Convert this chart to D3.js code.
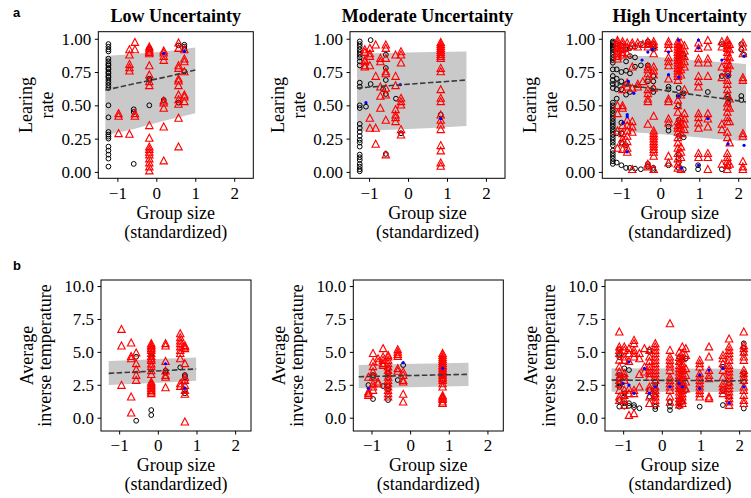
<!DOCTYPE html>
<html><head><meta charset="utf-8">
<script src="https://cdn.jsdelivr.net/npm/d3@7"></script>
<style>body{margin:0;background:#fff} svg{display:block}</style>
</head><body><svg id="fig" width="751" height="498"></svg>
<script>
// ---------- labels and ticks ----------
const conditions = ["Low Uncertainty", "Moderate Uncertainty", "High Uncertainty"];
const xTicks = [-1, 0, 1, 2];
const lrTicks = [0, 0.25, 0.5, 0.75, 1.0];
const tempTicks = [0, 2.5, 5, 7.5, 10];
const lrLabel = ["Learing", "rate"];
const tempLabel = ["Average", "inverse temperature"];
const xLabel = ["Group size", "(standardized)"];

// ---------- learning rate: columns of [group size, [values]] ----------
const lowLrCircles = [
  [-1.23, [0.96, 0.94, 0.92, 0.905, 0.85, 0.83, 0.81, 0.80, 0.78, 0.77, 0.75, 0.74, 0.72, 0.71, 0.69, 0.67, 0.65, 0.63, 0.50, 0.41, 0.30, 0.28, 0.265, 0.25, 0.19, 0.16, 0.13, 0.10, 0.04]],
  [-0.58, [0.47, 0.45, 0.06]],
  [-0.18, [0.93, 0.92, 0.70, 0.69, 0.50]],
  [0.19, [0.54]],
  [0.57, [0.95, 0.52]],
  [0.72, [0.955, 0.94, 0.92, 0.755]]
];
const lowLrTriangles = [
  [-0.97, [0.44, 0.42, 0.29]],
  [-0.69, [0.92, 0.88, 0.81, 0.785, 0.76, 0.285]],
  [-0.55, [0.975, 0.92, 0.44, 0.42]],
  [-0.18, [0.94, 0.925, 0.91, 0.90, 0.89, 0.80, 0.73, 0.68, 0.65, 0.35, 0.255, 0.19, 0.17, 0.15, 0.13, 0.10, 0.07, 0.04, 0.01]],
  [0.19, [0.91, 0.895, 0.87, 0.84, 0.535, 0.52, 0.48, 0.34, 0.085]],
  [0.57, [0.97, 0.93, 0.80, 0.78, 0.70, 0.685, 0.65, 0.58, 0.545, 0.51, 0.405, 0.19]],
  [0.72, [0.92, 0.85, 0.83, 0.755, 0.58, 0.565, 0.53]]
];
const lowLrDots = [[0.19, 0.89], [0.72, 0.905]];
// [x, lower, fit, upper]
const lowLrBand = [[-1.31, 0.275, 0.615, 0.87], [-0.6, 0.32, 0.66, 0.885], [0.2, 0.385, 0.71, 0.905], [1.0, 0.44, 0.765, 0.935]];

const modLrCircles = [
  [-1.24, [0.98, 0.96, 0.94, 0.92, 0.90, 0.88, 0.86, 0.83, 0.80, 0.67, 0.64, 0.50, 0.48, 0.36, 0.33, 0.30, 0.27, 0.24, 0.22, 0.19, 0.13, 0.11, 0.09, 0.06, 0.04, 0.02, 0.005]],
  [-1.08, [0.49]],
  [-0.96, [0.99, 0.66]],
  [-0.64, [0.62]],
  [-0.57, [0.88, 0.78, 0.69, 0.585, 0.135]],
  [-0.31, [0.55]],
  [-0.18, [0.29]],
  [0.84, [0.43]]
];
const modLrTriangles = [
  [-1.11, [0.92, 0.90, 0.84, 0.83, 0.80, 0.79]],
  [-0.98, [0.93, 0.89, 0.87, 0.80, 0.405, 0.33]],
  [-0.83, [0.955, 0.72, 0.33, 0.21]],
  [-0.71, [0.855, 0.83, 0.64, 0.57, 0.48]],
  [-0.57, [0.955, 0.93, 0.855, 0.755, 0.74, 0.63, 0.58, 0.39, 0.13]],
  [-0.32, [0.88, 0.72, 0.65, 0.47, 0.43, 0.41, 0.38]],
  [-0.18, [0.905, 0.88, 0.82, 0.555, 0.53, 0.505, 0.32, 0.28]],
  [0.84, [0.975, 0.96, 0.945, 0.93, 0.915, 0.90, 0.885, 0.87, 0.855, 0.78, 0.755, 0.62, 0.555, 0.53, 0.43, 0.39, 0.355, 0.32, 0.20, 0.16, 0.07, 0.045]]
];
const modLrDots = [[-1.08, 0.52], [-0.2, 0.655], [0.84, 0.40]];
const modLrBand = [[-1.31, 0.305, 0.63, 0.89], [-0.3, 0.318, 0.652, 0.895], [0.6, 0.33, 0.671, 0.9], [1.5, 0.345, 0.69, 0.905]];

const highLrCircles = [
  [-1.22, [0.98, 0.97, 0.96, 0.95, 0.94, 0.93, 0.92, 0.90, 0.88, 0.86, 0.84, 0.82, 0.77, 0.72, 0.69, 0.66, 0.63, 0.52, 0.50, 0.48, 0.46, 0.44, 0.42, 0.40, 0.38, 0.36, 0.34, 0.32, 0.30, 0.28, 0.26, 0.24, 0.22, 0.20, 0.16, 0.14, 0.12, 0.10, 0.08, 0.06]],
  [-1.12, [0.96, 0.93, 0.77, 0.70, 0.66, 0.62, 0.55, 0.29, 0.07]],
  [-1.0, [0.95, 0.91, 0.75, 0.68, 0.62, 0.37, 0.29, 0.22, 0.05]],
  [-0.88, [0.94, 0.92, 0.83, 0.76, 0.66, 0.58, 0.20, 0.03]],
  [-0.78, [0.93, 0.87, 0.74, 0.60, 0.03]],
  [-0.65, [0.94, 0.86, 0.79, 0.025]],
  [-0.5, [0.96, 0.80, 0.02]],
  [-0.32, [0.98, 0.96, 0.80, 0.68, 0.06, 0.04]],
  [-0.18, [0.96, 0.94, 0.92, 0.72, 0.68, 0.63, 0.60, 0.03, 0.015]],
  [0.21, [0.64, 0.62, 0.34, 0.31, 0.05]],
  [0.47, [0.94, 0.90, 0.87, 0.84, 0.63, 0.57, 0.50, 0.39, 0.35, 0.27, 0.13, 0.10, 0.07, 0.03]],
  [0.6, [0.88, 0.86, 0.59, 0.26, 0.02]],
  [0.97, [0.05, 0.02]],
  [1.22, [0.60]],
  [1.58, [0.96, 0.72, 0.02]],
  [1.74, [0.74, 0.72, 0.57, 0.55, 0.52, 0.04]],
  [2.08, [0.96, 0.92, 0.57, 0.54]],
  [2.15, [0.88]]
];
const highLrTriangles = [
  [-1.1, [0.99, 0.97, 0.95, 0.93, 0.91, 0.89, 0.87, 0.85, 0.50, 0.44, 0.31, 0.18]],
  [-0.97, [0.98, 0.96, 0.93, 0.90, 0.88, 0.62, 0.50, 0.48, 0.35, 0.29, 0.25, 0.22, 0.17]],
  [-0.85, [0.97, 0.94, 0.89, 0.67, 0.64, 0.39, 0.35, 0.31, 0.27, 0.23, 0.18, 0.15]],
  [-0.72, [0.97, 0.95, 0.79, 0.63, 0.38, 0.34, 0.30, 0.02]],
  [-0.58, [0.97, 0.94, 0.66, 0.64]],
  [-0.45, [0.96, 0.68]],
  [-0.32, [0.98, 0.96, 0.94, 0.79, 0.77, 0.74, 0.70, 0.62, 0.59, 0.55, 0.53, 0.36, 0.06, 0.04]],
  [-0.17, [0.98, 0.96, 0.94, 0.89, 0.79, 0.76, 0.73, 0.63, 0.42, 0.31, 0.29, 0.27, 0.25, 0.23, 0.21, 0.19, 0.17, 0.15, 0.12, 0.02]],
  [0.21, [0.98, 0.96, 0.93, 0.86, 0.83, 0.80, 0.70, 0.55, 0.53, 0.40, 0.37, 0.12, 0.07]],
  [0.45, [0.98, 0.96, 0.94, 0.92, 0.90, 0.88, 0.86, 0.84, 0.82, 0.80, 0.78, 0.76, 0.74, 0.72, 0.69, 0.54, 0.50, 0.45, 0.38, 0.35, 0.33, 0.30, 0.26, 0.22, 0.18, 0.14, 0.10, 0.06, 0.03]],
  [0.53, [0.97, 0.93, 0.89, 0.85, 0.81, 0.77, 0.73, 0.58, 0.41, 0.37, 0.33, 0.29, 0.19, 0.15, 0.11, 0.02]],
  [0.62, [0.95, 0.91, 0.87, 0.83, 0.79, 0.62, 0.44, 0.40, 0.36, 0.32]],
  [0.98, [0.97, 0.93, 0.85, 0.82, 0.72, 0.68, 0.64, 0.44, 0.41, 0.37, 0.33, 0.14, 0.11]],
  [1.22, [0.99, 0.94, 0.85, 0.82, 0.72, 0.44, 0.40, 0.34, 0.14, 0.11, 0.02]],
  [1.58, [0.98, 0.94, 0.79, 0.71, 0.36, 0.32, 0.06]],
  [1.72, [0.99, 0.97, 0.95, 0.93, 0.90, 0.87, 0.84, 0.81, 0.78, 0.75, 0.69, 0.66, 0.62, 0.58, 0.52, 0.49, 0.45, 0.41, 0.38, 0.30, 0.26, 0.14, 0.11, 0.08, 0.05, 0.02]],
  [1.78, [0.96, 0.92, 0.86, 0.80, 0.55, 0.48, 0.38, 0.22, 0.06]],
  [2.12, [0.97, 0.94, 0.89, 0.71, 0.69, 0.29, 0.27, 0.08, 0.04, 0.02]]
];
const highLrDots = [[-0.82, 0.68], [-0.85, 0.43], [-0.85, 0.415], [-0.95, 0.37], [-0.85, 0.15], [-0.68, 0.59], [-0.47, 0.84],
  [-0.32, 0.90], [-0.2, 0.92], [0.21, 0.90], [0.21, 0.73], [0.47, 0.99], [0.47, 0.71], [0.47, 0.57], [0.55, 0.03],
  [0.98, 0.99], [0.98, 0.93], [0.98, 0.05], [1.22, 0.40], [1.58, 0.84], [1.74, 0.72], [1.74, 0.21], [2.15, 0.87], [2.15, 0.20]];
const highLrBand = [[-1.3, 0.305, 0.67, 0.87], [-0.3, 0.29, 0.63, 0.87], [0.6, 0.27, 0.59, 0.845], [1.5, 0.245, 0.555, 0.825], [2.2, 0.23, 0.525, 0.81]];

// ---------- inverse temperature ----------
const lowTempCircles = [
  [-0.56, [4.63, -0.23]],
  [-0.17, [4.84, 4.63, 2.6, 0.58, 0.2]],
  [0.2, [3.57, 3.42]],
  [0.58, [3.82]],
  [0.7, [3.24, 3.1, 2.73, 2.1, 1.85]]
];
const lowTempTriangles = [
  [-0.94, [6.73, 5.47, 2.48]],
  [-0.69, [5.7, 4.68, 4.5, 1.6, 0.38]],
  [-0.56, [4.94, 4.13, 3.67, 3.24, 2.86]],
  [-0.17, [5.65, 5.52, 5.4, 5.27, 5.14, 4.9, 4.68, 4.5, 4.38, 4.1, 3.9, 3.6, 3.3, 2.73, 2.6, 2.48, 2.35, 2.23, 2.1, 1.97, 1.85]],
  [0.2, [5.65, 5.47, 4.3, 3.57, 3.24, 3.1, 2.3]],
  [0.58, [6.4, 6.1, 5.85, 5.65, 5.4, 5.14, 4.9, 4.5, 2.6, 2.4]],
  [0.7, [5.5, 5.4, 5.27, 4.13, 3.1, 2.86, 2.48, 2.1, 1.8, -0.3]]
];
const lowTempDots = [[0.2, 4.1], [0.7, 2.23]];
const lowTempBand = [[-1.27, 2.48, 3.37, 4.3], [-0.4, 2.6, 3.5, 4.4], [0.3, 2.7, 3.6, 4.5], [0.99, 2.8, 3.7, 4.58]];

const modTempCircles = [
  [-1.08, [2.48]],
  [-0.96, [3.24, 3.1, 1.42]],
  [-0.7, [2.4]],
  [-0.57, [3.75, 3.37, 3.04, 2.4, 2.15, 1.34]],
  [-0.32, [2.86]],
  [-0.18, [4.0]],
  [0.84, [3.2, 2.86]]
];
const modTempTriangles = [
  [-1.08, [3.1, 1.97, 1.85, 1.72]],
  [-0.96, [4.9, 4.25, 3.9, 3.5, 3.1, 2.6, 2.35, 2.1]],
  [-0.83, [4.5, 4.25, 2.73, 2.6]],
  [-0.7, [5.27, 4.63, 4.38, 4.13, 4.0]],
  [-0.57, [4.76, 4.63, 4.38, 4.13, 3.87, 3.62, 3.37, 3.1, 2.86, 2.6, 2.35, 2.1, 1.85, 1.6]],
  [-0.32, [5.19, 5.0, 4.83, 4.68, 3.75, 3.55]],
  [-0.18, [3.49, 3.24, 2.86, 2.73, 1.8, 1.22]],
  [0.84, [4.9, 4.76, 4.6, 4.45, 4.3, 4.15, 4.0, 3.87, 3.75, 3.62, 3.5, 3.37, 3.24, 3.1, 2.98, 2.86, 2.6, 2.35, 1.7, 1.6, 1.5, 1.4, 1.22, 1.1]]
];
const modTempDots = [[-1.08, 2.23], [-0.18, 4.18], [0.84, 3.75]];
const modTempBand = [[-1.33, 2.23, 3.11, 4.0], [-0.3, 2.29, 3.18, 4.07], [0.6, 2.35, 3.24, 4.12], [1.51, 2.4, 3.29, 4.18]];

const highTempCircles = [
  [-1.1, [5.2, 4.76, 4.6, 3.24, 3.0, 2.6, 2.35, 1.34, 0.84]],
  [-0.97, [3.75, 3.1, 1.85, 1.6, 1.1, 0.84]],
  [-0.85, [3.62, 1.1, 0.9]],
  [-0.72, [0.96, 0.8]],
  [-0.58, [0.72]],
  [-0.32, [5.14, 5.0, 2.1, 1.6]],
  [-0.17, [2.73, 2.48, 2.1, 1.6, 0.84, 0.65]],
  [0.21, [1.22, 0.84, 0.58]],
  [0.45, [4.6, 4.2, 2.73, 2.2, 1.34, 1.1, 0.84]],
  [0.53, [4.6, 4.4, 3.6, 2.5, 1.2]],
  [0.62, [4.5, 2.1]],
  [0.98, [0.84]],
  [1.58, [3.87, 2.1, 0.96]],
  [1.74, [2.6, 1.6]],
  [2.12, [5.65, 5.3, 4.9, 3.37, 2.73, 0.7]]
];
const highTempTriangles = [
  [-1.1, [6.53, 5.4, 5.14, 4.9, 4.4, 3.87, 3.5, 3.1, 2.86, 2.6, 2.1, 1.6, 1.34]],
  [-0.97, [5.4, 5.14, 4.63, 4.38, 3.37, 3.1, 2.86, 2.1, 1.72, 1.34, 0.96]],
  [-0.85, [5.27, 4.9, 4.3, 2.23, 1.85, 0.2]],
  [-0.72, [5.9, 5.65, 5.14, 4.9, 4.63, 2.1, 1.85, 0.33]],
  [-0.58, [4.9, 4.5, 3.3, 2.35]],
  [-0.45, [5.27, 3.87, 3.5]],
  [-0.32, [5.14, 4.63, 4.3, 3.9, 3.62, 3.37, 3.1, 2.35, 2.1, 1.6, 1.1]],
  [-0.17, [5.65, 5.4, 5.14, 4.9, 4.63, 4.38, 4.13, 3.87, 3.62, 3.37, 3.1, 2.86, 2.35, 2.1, 1.85, 1.6, 1.34, 1.1]],
  [0.21, [7.16, 5.14, 4.63, 4.38, 4.1, 3.87, 3.6, 3.1, 2.86, 2.6, 2.35, 2.1, 1.6, 1.2]],
  [0.45, [5.0, 4.6, 4.3, 4.0, 3.75, 3.5, 3.24, 3.0, 2.73, 2.48, 2.23, 1.97, 1.72, 1.47, 1.22, 1.0]],
  [0.53, [5.4, 4.9, 4.5, 4.13, 3.87, 3.62, 3.37, 3.1, 2.86, 2.6, 2.35, 2.1, 1.85, 1.6, 1.34, 1.1]],
  [0.62, [5.27, 4.76, 3.75, 3.24, 2.73, 2.2]],
  [0.98, [4.38, 4.13, 3.87, 3.37, 3.1, 2.86, 2.6, 2.35, 2.1, 1.85, 1.6]],
  [1.22, [5.4, 4.63, 3.62, 3.24, 2.98, 1.6, 1.47]],
  [1.58, [4.76, 4.5, 4.13, 3.62, 3.1, 2.6, 2.35, 2.1, 1.85]],
  [1.74, [6.0, 5.4, 5.14, 4.9, 4.63, 4.38, 4.0, 3.75, 3.5, 3.24, 3.0, 2.73, 2.48, 2.23, 1.97, 1.72, 1.47, 1.22, 0.96]],
  [2.12, [6.53, 5.5, 5.27, 5.0, 4.63, 4.38, 3.62, 3.37, 3.1, 2.86, 2.35, 2.1, 1.72, 1.34, 1.1]]
];
const highTempDots = [[-0.85, 4.25], [-0.85, 2.48], [-0.72, 1.85], [-0.45, 3.75], [-0.32, 1.85], [-0.17, 2.35], [0.21, 2.35],
  [0.45, 2.6], [0.53, 2.35], [0.98, 3.24], [0.98, 2.23], [1.22, 3.62], [1.58, 3.75], [1.74, 1.1], [2.12, 2.35], [-1.0, 2.6]];
const highTempBand = [[-1.3, 1.97, 2.86, 3.75], [0.4, 1.96, 2.83, 3.73], [2.2, 1.95, 2.8, 3.72]];

// ---------- layout ----------
const rowLayout = [
  {top: 31.7, height: 146.6, lefts: [98.3, 350, 602.3], width: 155, xDomain: [-1.49, 2.49], yDomain: [-0.048, 1.053],
   ticks: lrTicks, fmt: d3.format(".2f"), ylab: lrLabel, ylabX: [-66, -45], xTickY: 199, xLabY: [219, 238]},
  {top: 280, height: 151, lefts: [101, 353.3, 605], width: 150, xDomain: [-1.47, 2.41], yDomain: [-1.01, 10.46],
   ticks: tempTicks, fmt: d3.format(".1f"), ylab: tempLabel, ylabX: [-68, -50], xTickY: 451, xLabY: [471, 490]}
];

const panels = [
  {row: 0, col: 0, circles: lowLrCircles, triangles: lowLrTriangles, dots: lowLrDots, band: lowLrBand},
  {row: 0, col: 1, circles: modLrCircles, triangles: modLrTriangles, dots: modLrDots, band: modLrBand},
  {row: 0, col: 2, circles: highLrCircles, triangles: highLrTriangles, dots: highLrDots, band: highLrBand},
  {row: 1, col: 0, circles: lowTempCircles, triangles: lowTempTriangles, dots: lowTempDots, band: lowTempBand},
  {row: 1, col: 1, circles: modTempCircles, triangles: modTempTriangles, dots: modTempDots, band: modTempBand},
  {row: 1, col: 2, circles: highTempCircles, triangles: highTempTriangles, dots: highTempDots, band: highTempBand}
];

const serif = "'Liberation Serif', 'Times New Roman', serif";
const svg = d3.select("#fig");
const minus = s => s.replace("-", "\u2212");
const flat = cols => cols.flatMap(([gx, ys]) => ys.map(v => [gx, v]));
const tri = "M0,-3.7L3.7,3.3L-3.7,3.3Z";

panels.forEach(p => {
  const R = rowLayout[p.row];
  const left = R.lefts[p.col], top = R.top, w = R.width, h = R.height;
  const x = d3.scaleLinear().domain(R.xDomain).range([left, left + w]);
  const y = d3.scaleLinear().domain(R.yDomain).range([top + h, top]);
  const g = svg.append("g");

  // prediction band and fitted trend
  g.append("path").datum(p.band)
    .attr("d", d3.area().x(d => x(d[0])).y0(d => y(d[1])).y1(d => y(d[3])))
    .attr("fill", "#c9c9c9");

  g.append("g").selectAll("circle").data(flat(p.circles)).join("circle")
    .attr("cx", d => x(d[0])).attr("cy", d => y(d[1])).attr("r", 2.4)
    .attr("fill", "none").attr("stroke", "#000").attr("stroke-width", 1);

  g.append("g").selectAll("path").data(flat(p.triangles)).join("path")
    .attr("d", tri).attr("transform", d => `translate(${x(d[0])},${y(d[1])})`)
    .attr("fill", "none").attr("stroke", "#ff0000").attr("stroke-width", 1.1);

  g.append("g").selectAll("circle").data(p.dots).join("circle")
    .attr("cx", d => x(d[0])).attr("cy", d => y(d[1])).attr("r", 1.6)
    .attr("fill", "#0000ff");

  g.append("path").datum(p.band)
    .attr("d", d3.line().x(d => x(d[0])).y(d => y(d[2])))
    .attr("fill", "none").attr("stroke", "#3a3a3a").attr("stroke-width", 1.6)
    .attr("stroke-dasharray", "5.5,2.4");

  // frame
  g.append("rect").attr("x", left).attr("y", top).attr("width", w).attr("height", h)
    .attr("fill", "none").attr("stroke", "#000").attr("stroke-width", 1);

  // axes
  const ya = g.append("g").attr("transform", `translate(${left},0)`)
    .call(d3.axisLeft(y).tickValues(R.ticks).tickFormat(R.fmt).tickSize(3.5).tickPadding(3.5));
  const xa = g.append("g").attr("transform", `translate(0,${top + h})`)
    .call(d3.axisBottom(x).tickValues(xTicks).tickFormat(d => minus(String(d))).tickSize(3.5).tickPadding(3.5));
  [ya, xa].forEach(a => {
    a.select(".domain").remove();
    a.selectAll("line").attr("stroke", "#000");
    a.selectAll("text").attr("font-family", serif).attr("font-size", 17).attr("fill", "#000");
  });
  xa.selectAll("text").attr("dy", null).attr("y", R.xTickY - top - h);

  // axis titles
  const cx = left + w / 2, cy = top + h / 2;
  R.ylab.forEach((t, i) => {
    g.append("text").attr("transform", `translate(${left + R.ylabX[i]},${cy}) rotate(-90)`)
      .attr("text-anchor", "middle").attr("font-family", serif).attr("font-size", 18).text(t);
  });
  xLabel.forEach((t, i) => {
    g.append("text").attr("x", cx).attr("y", R.xLabY[i]).attr("text-anchor", "middle")
      .attr("font-family", serif).attr("font-size", 18).text(t);
  });
  if (p.row === 0) {
    g.append("text").attr("x", cx).attr("y", 22).attr("text-anchor", "middle")
      .attr("font-family", serif).attr("font-weight", "bold").attr("font-size", 18).text(conditions[p.col]);
  }
});

// panel letters
[["a", 17], ["b", 270]].forEach(([t, yy]) => {
  svg.append("text").attr("x", 13).attr("y", yy).attr("font-family", "'Liberation Sans', Arial, sans-serif")
    .attr("font-weight", "bold").attr("font-size", 13).text(t);
});
</script>
</body></html>
